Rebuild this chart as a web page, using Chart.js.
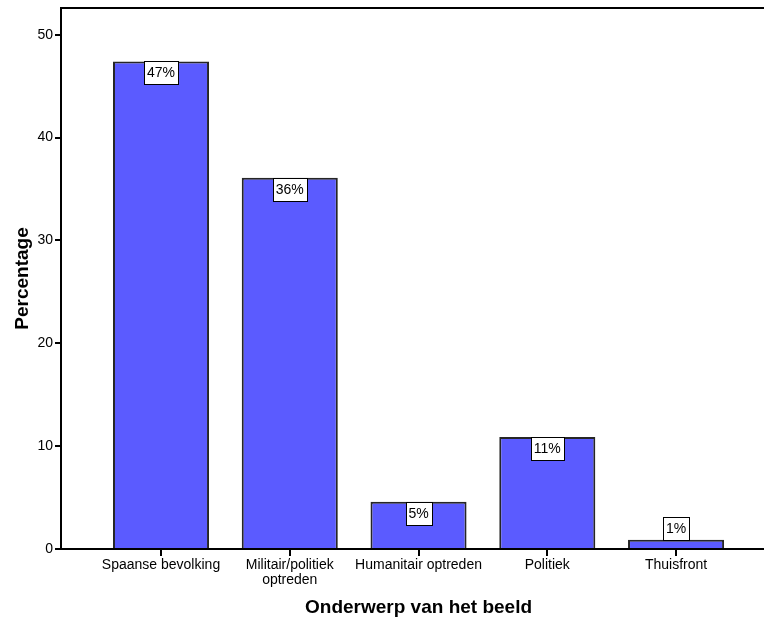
<!DOCTYPE html>
<html>
<head>
<meta charset="utf-8">
<style>
  html, body { margin: 0; padding: 0; background: #fff; }
  #wrap { width: 764px; height: 624px; }
</style>
<script src="https://cdn.jsdelivr.net/npm/chart.js@4/dist/chart.umd.min.js"></script>
</head>
<body>
<div id="wrap"><canvas id="c" width="764" height="624"></canvas></div>
<script>
const categories = ["Spaanse bevolking", ["Militair/politiek", "optreden"], "Humanitair optreden", "Politiek", "Thuisfront"];
const percentages = [47.4, 36.1, 4.6, 10.9, 0.9];
const valueLabels = ["47%", "36%", "5%", "11%", "1%"];
const yTicks = [0, 10, 20, 30, 40, 50];
const yMax = 52.6;
const xTitle = 'Onderwerp van het beeld';

const FONT = "'Liberation Sans', Arial, Helvetica, sans-serif";

const frameAndLabels = {
  id: 'frameAndLabels',
  afterDatasetsDraw(chart) {
    const ctx = chart.ctx;
    const ca = chart.chartArea;
    ctx.save();
    ctx.strokeStyle = '#000';
    ctx.lineWidth = 2;
    ctx.beginPath();
    ctx.moveTo(ca.left - 1, ca.top);
    ctx.lineTo(chart.width, ca.top);
    ctx.stroke();
    const meta = chart.getDatasetMeta(0);
    ctx.font = '14px ' + FONT;
    ctx.textAlign = 'center';
    ctx.textBaseline = 'middle';
    const boxH = 23;
    meta.data.forEach((bar, i) => {
      const txt = valueLabels[i];
      const w = Math.round(ctx.measureText(txt).width) + 6;
      const barH = bar.base - bar.y;
      let top;
      if (barH > boxH + 2) top = bar.y; else top = bar.y - boxH;
      const left = Math.round(bar.x - w / 2) + 0.5;
      top = Math.round(top) + 0.5;
      ctx.fillStyle = '#fff';
      ctx.fillRect(left, top, w, boxH);
      ctx.strokeStyle = '#000';
      ctx.lineWidth = 1;
      ctx.strokeRect(left, top, w, boxH);
      ctx.fillStyle = '#000';
      ctx.fillText(txt, bar.x, top + boxH / 2 + 0.5);
    });
    const xs = chart.scales.x;
    ctx.font = 'bold 19px ' + FONT;
    ctx.fillStyle = '#000';
    ctx.fillText(xTitle, xs.getPixelForValue((categories.length + 1) / 2), chart.height - 16);
    ctx.restore();
  }
};

new Chart(document.getElementById('c'), {
  type: 'bar',
  data: {
    datasets: [{
      data: percentages.map((v, i) => ({ x: i + 1, y: v })),
      backgroundColor: '#5b5bff',
      borderColor: '#262626',
      borderWidth: 2,
      borderSkipped: 'bottom',
      categoryPercentage: 1,
      barPercentage: 0.746
    }]
  },
  options: {
    responsive: false,
    animation: false,
    devicePixelRatio: 1,
    layout: { padding: { top: 8, right: 0, left: 0, bottom: 0 } },
    plugins: { legend: { display: false }, tooltip: { enabled: false } },
    scales: {
      x: {
        type: 'linear',
        offset: false,
        min: 0.2233,
        max: 5.683,
        afterFit(scale) { scale.height = 75; scale.paddingLeft = 0; scale.paddingRight = 0; },
        afterBuildTicks(scale) { scale.ticks = categories.map((c, i) => ({ value: i + 1 })); },
        ticks: {
          autoSkip: false,
          maxRotation: 0,
          padding: 1,
          color: '#000',
          font: { family: FONT, size: 14, lineHeight: 1.1 },
          callback: (v) => categories[Math.round(v) - 1]
        },
        grid: { offset: false, drawOnChartArea: false, drawTicks: true, tickLength: 7, color: '#000', lineWidth: 2 },
        border: { display: true, color: '#000', width: 2 },
        title: { display: false }
      },
      y: {
        type: 'linear',
        min: 0,
        max: yMax,
        afterFit(scale) { scale.width = 61; scale.paddingTop = 0; scale.paddingBottom = 0; },
        afterBuildTicks(scale) { scale.ticks = yTicks.map(v => ({ value: v })); },
        ticks: {
          padding: 2,
          color: '#000',
          font: { family: FONT, size: 14 },
          callback: (v) => String(v)
        },
        grid: { drawOnChartArea: false, drawTicks: true, tickLength: 6, color: '#000', lineWidth: 2 },
        border: { display: true, color: '#000', width: 2 },
        title: {
          display: true,
          text: 'Percentage',
          color: '#000',
          font: { family: FONT, size: 19, weight: 'bold' },
          padding: { top: 11, bottom: 0 }
        }
      }
    }
  },
  plugins: [frameAndLabels]
});
</script>
</body>
</html>
